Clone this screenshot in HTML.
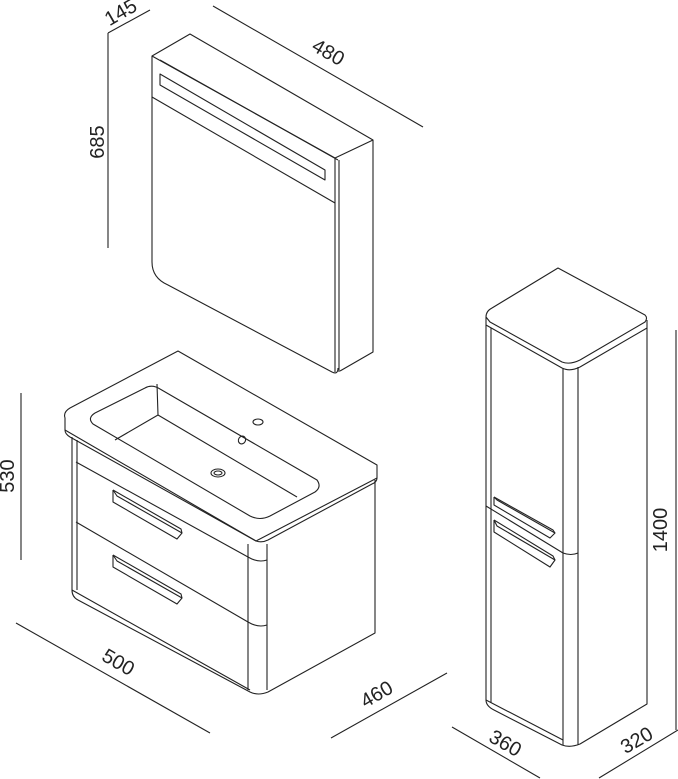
<!DOCTYPE html>
<html><head><meta charset="utf-8"><style>
html,body{margin:0;padding:0;background:#fff;}
svg{display:block}
text{font-family:"Liberation Sans",Arial,sans-serif;font-size:20px;fill:#222}
</style></head><body>
<svg width="678" height="779" viewBox="0 0 678 779" xmlns="http://www.w3.org/2000/svg">
<g fill="none" stroke="#222" stroke-width="1.1" stroke-linejoin="round">
<line x1="108" y1="33" x2="150" y2="10"/>
<line x1="108" y1="33" x2="108" y2="248"/>
<line x1="213" y1="6" x2="423" y2="127"/>
<line x1="21" y1="393" x2="21" y2="560"/>
<line x1="16" y1="623" x2="210" y2="733"/>
<line x1="331" y1="738" x2="447" y2="673"/>
<line x1="452" y1="727" x2="540" y2="778"/>
<line x1="599" y1="778" x2="678" y2="730"/>
<line x1="676" y1="330" x2="676" y2="730"/>

<path d="M152,56 L190,34 L373,140 L335,158 Z"/>
<path d="M160,60 L338,160"/>
<path d="M152,56 L152,262 Q152,278 168,285 L332,372 Q338,375 338,368"/>
<path d="M335,158 L335,372"/>
<path d="M339,160 L339,372"/>
<path d="M373,140 L373,352 L340,371"/>
<path d="M160,74 L325,170 L325,180 L160,85 Z"/>
<path d="M152,97 L335,203"/>

<path d="M65,418 Q63,412 70,408 L178,351 L377,465 L377,478 Q377,482 372,484 L268,540 Q262,543 256,541 L70,437 Q65,434 65,430 Z"/>
<path d="M65,430 L256,541"/>
<path d="M256,541 L377,478"/>
<path d="M95,413 Q87,418 93,424 L250,516 Q260,521 270,516 L315,492 Q322,487 317,480 L160,389 Q152,384 145,388 Z"/>
<path d="M157,384 L158,415 L115,440"/>
<path d="M158,415 L297,497"/>
<ellipse cx="258" cy="422" rx="5" ry="3"/>
<ellipse cx="242" cy="440" rx="3.5" ry="4" transform="rotate(30 242 440)"/>
<ellipse cx="218" cy="473" rx="7" ry="4"/>
<ellipse cx="218" cy="473" rx="4" ry="2"/>
<path d="M72,437 L72,590 Q72,597 78,600 L250,692 Q258,696 268,692 L375,633 L375,480"/>
<path d="M77,440 L77,590"/>
<path d="M72,590 L250,690"/>
<path d="M76,462 L248,557"/>
<path d="M76,522 L248,622"/>
<path d="M248,544 L248,690"/>
<path d="M267,544 L267,690"/>
<path d="M248,557 Q258,563 267,560"/>
<path d="M248,622 Q258,628 267,625"/>
<path d="M113,490 L113,502 L177,539 L182,533 L117,496 L113,490"/>
<path d="M113,490 L181,529 L182,533"/>
<path d="M113,555 L113,567 L177,604 L182,598 L117,561 L113,555"/>
<path d="M113,555 L181,594 L182,598"/>

<path d="M486,317 Q486,311 492,308 L558,268 L645,315 Q648,318 645,322 L580,360 Q570,365 562,362 L490,322 Z"/>
<path d="M486,317 L486,325 L562,368 Q570,372 580,367 L647,328 L647,320"/>
<path d="M486,325 L486,700 Q486,706 494,710 L562,745 Q570,748 580,744 L647,704 L647,328"/>
<path d="M491,328 L491,703"/>
<path d="M563,368 L563,745"/>
<path d="M578,367 L578,745"/>
<path d="M486,700 L563,740"/>
<path d="M486,506 L563,553 Q571,556 578,553"/>
<path d="M494,497 L494,505 L550,538 L555,533 L497,500 L494,497"/>
<path d="M494,497 L553,530 L555,533"/>
<path d="M494,520 L494,532 L550,567 L555,560 L497,526 L494,520"/>
<path d="M494,520 L553,556 L555,560"/>
</g>
<text transform="translate(124,18) rotate(-30)" text-anchor="middle">145</text>
<text transform="translate(104,142) rotate(-90)" text-anchor="middle">685</text>
<text transform="translate(325,58) rotate(30)" text-anchor="middle">480</text>
<text transform="translate(14,476) rotate(-90)" text-anchor="middle">530</text>
<text transform="translate(115,668) rotate(30)" text-anchor="middle">500</text>
<text transform="translate(380,700) rotate(-30)" text-anchor="middle">460</text>
<text transform="translate(502,749) rotate(30)" text-anchor="middle">360</text>
<text transform="translate(640,746) rotate(-30)" text-anchor="middle">320</text>
<text transform="translate(667,530) rotate(-90)" text-anchor="middle">1400</text>
</svg>
</body></html>
